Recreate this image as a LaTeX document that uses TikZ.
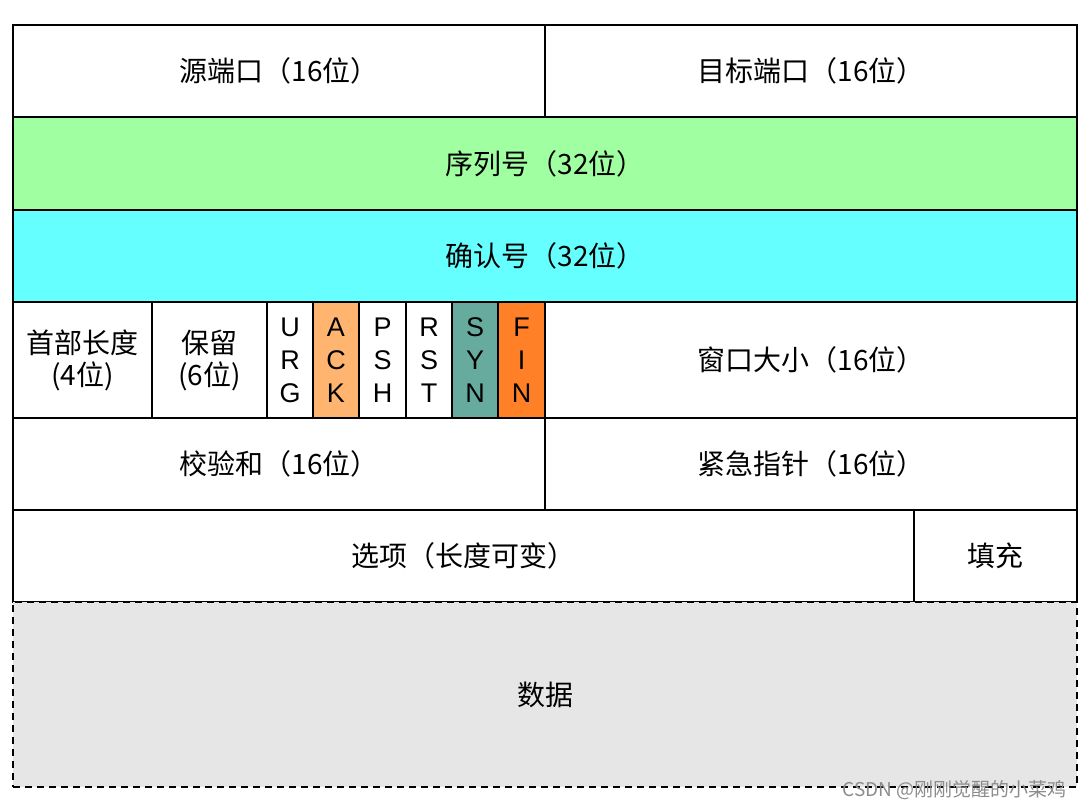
\documentclass[tikz,border=0pt]{standalone}
\usepackage{fontspec}
\setmainfont{Noto Sans CJK SC}
\setsansfont{Noto Sans CJK SC}
\newfontfamily\latinf{Liberation Sans}
\definecolor{seqgreen}{HTML}{A0FFA0}
\definecolor{ackcyan}{HTML}{66FFFF}
\definecolor{ackorange}{HTML}{FFB570}
\definecolor{synteal}{HTML}{67AB9F}
\definecolor{finorange}{HTML}{FF8026}
\definecolor{datagray}{HTML}{E6E6E6}
\begin{document}
\begin{tikzpicture}[x=1pt,y=-1pt,
  cell/.style={draw=black, line width=2pt, rectangle, inner sep=0pt, outer sep=0pt,
    align=center, font=\fontsize{28}{32}\selectfont},
  flag/.style={cell, font=\latinf\fontsize{27}{33}\selectfont},
  wmark/.style={text=black!45, font=\fontsize{19}{21}\selectfont, anchor=east}]
\useasboundingbox (0,0) rectangle (1092,808);
% row 1
\node[cell, minimum width=532pt, minimum height=92pt] (src) at (279,71) {源端口（16位）};
\node[cell, minimum width=532pt, minimum height=92pt] (dst) at (811,71) {目标端口（16位）};
% row 2
\node[cell, fill=seqgreen, minimum width=1064pt, minimum height=93pt] (seq) at (545,163.5) {序列号（32位）};
% row 3
\node[cell, fill=ackcyan, minimum width=1064pt, minimum height=92pt] (ack) at (545,256) {确认号（32位）};
% row 4
\node[cell, minimum width=139pt, minimum height=116pt] (hlen) at (82.5,360) {首部长度\\(4位)};
\node[cell, minimum width=115pt, minimum height=116pt] (res) at (209.5,360) {保留\\(6位)};
\node[flag, minimum width=46pt, minimum height=116pt] (urg) at (290,360) {U\\R\\G};
\node[flag, fill=ackorange, minimum width=46pt, minimum height=116pt] (fack) at (336,360) {A\\C\\K};
\node[flag, minimum width=47pt, minimum height=116pt] (psh) at (382.5,360) {P\\S\\H};
\node[flag, minimum width=46pt, minimum height=116pt] (rst) at (429,360) {R\\S\\T};
\node[flag, fill=synteal, minimum width=46pt, minimum height=116pt] (syn) at (475,360) {S\\Y\\N};
\node[flag, fill=finorange, minimum width=47pt, minimum height=116pt] (fin) at (521.5,360) {F\\I\\N};
\node[cell, minimum width=532pt, minimum height=116pt] (win) at (811,360) {窗口大小（16位）};
% row 5
\node[cell, minimum width=532pt, minimum height=92pt] (chk) at (279,464) {校验和（16位）};
\node[cell, minimum width=532pt, minimum height=92pt] (urgp) at (811,464) {紧急指针（16位）};
% row 6
\node[cell, minimum width=901pt, minimum height=92pt] (opt) at (463.5,556) {选项（长度可变）};
\node[cell, minimum width=163pt, minimum height=92pt] (pad) at (995.5,556) {填充};
% data
\node[cell, dashed, dash pattern=on 7pt off 5pt, fill=datagray, minimum width=1064pt, minimum height=185pt] (data) at (545,694.5) {数据};
% watermark
\node[wmark] (wm) at (1070,790) {CSDN @刚刚觉醒的小菜鸡};
\end{tikzpicture}
\end{document}
